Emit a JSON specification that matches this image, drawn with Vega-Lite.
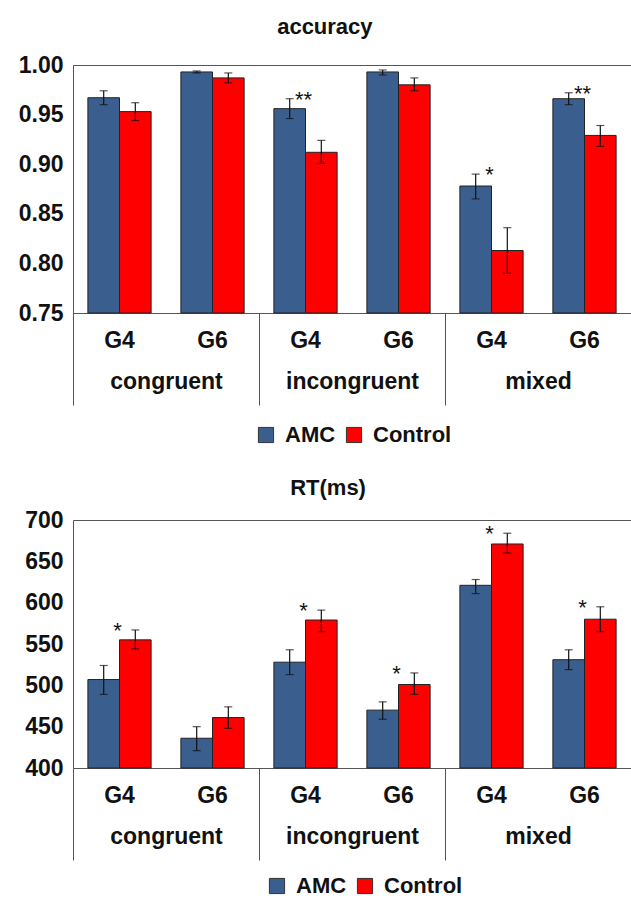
{
  "$schema": "https://vega.github.io/schema/vega-lite/v6.json",
  "padding": {"left": 18, "top": 16, "right": 0, "bottom": 0},
  "background": "white",
  "spacing": 31,
  "config": {
    "font": "Liberation Sans",
    "view": {"stroke": null},
    "axis": {"labelFont": "Liberation Sans", "labelFontWeight": "bold", "labelFontSize": 23, "labelColor": "#111", "domainColor": "#555", "title": null},
    "title": {"font": "Liberation Sans", "fontSize": 22, "fontWeight": "bold", "color": "#111", "frame": "bounds", "anchor": "middle"}
  },
  "resolve": {"legend": {"color": "independent"}},
  "datasets": {
    "acc": [
      {"category": "congruent", "grade": "G4", "key": "congruent G4", "group": "AMC", "mean": 0.967, "lo": 0.960, "hi": 0.974, "sig": ""},
      {"category": "congruent", "grade": "G4", "key": "congruent G4", "group": "Control", "mean": 0.953, "lo": 0.944, "hi": 0.962, "sig": ""},
      {"category": "congruent", "grade": "G6", "key": "congruent G6", "group": "AMC", "mean": 0.993, "lo": 0.992, "hi": 0.994, "sig": ""},
      {"category": "congruent", "grade": "G6", "key": "congruent G6", "group": "Control", "mean": 0.987, "lo": 0.982, "hi": 0.992, "sig": ""},
      {"category": "incongruent", "grade": "G4", "key": "incongruent G4", "group": "AMC", "mean": 0.956, "lo": 0.946, "hi": 0.966, "sig": "**"},
      {"category": "incongruent", "grade": "G4", "key": "incongruent G4", "group": "Control", "mean": 0.912, "lo": 0.901, "hi": 0.924, "sig": ""},
      {"category": "incongruent", "grade": "G6", "key": "incongruent G6", "group": "AMC", "mean": 0.993, "lo": 0.990, "hi": 0.995, "sig": ""},
      {"category": "incongruent", "grade": "G6", "key": "incongruent G6", "group": "Control", "mean": 0.980, "lo": 0.974, "hi": 0.987, "sig": ""},
      {"category": "mixed", "grade": "G4", "key": "mixed G4", "group": "AMC", "mean": 0.878, "lo": 0.865, "hi": 0.890, "sig": "*"},
      {"category": "mixed", "grade": "G4", "key": "mixed G4", "group": "Control", "mean": 0.813, "lo": 0.790, "hi": 0.836, "sig": ""},
      {"category": "mixed", "grade": "G6", "key": "mixed G6", "group": "AMC", "mean": 0.966, "lo": 0.960, "hi": 0.972, "sig": "**"},
      {"category": "mixed", "grade": "G6", "key": "mixed G6", "group": "Control", "mean": 0.929, "lo": 0.918, "hi": 0.939, "sig": ""}
    ],
    "rt": [
      {"category": "congruent", "grade": "G4", "key": "congruent G4", "group": "AMC", "mean": 507, "lo": 489, "hi": 524, "sig": ""},
      {"category": "congruent", "grade": "G4", "key": "congruent G4", "group": "Control", "mean": 555, "lo": 544, "hi": 567, "sig": "*"},
      {"category": "congruent", "grade": "G6", "key": "congruent G6", "group": "AMC", "mean": 436, "lo": 421, "hi": 450, "sig": ""},
      {"category": "congruent", "grade": "G6", "key": "congruent G6", "group": "Control", "mean": 461, "lo": 448, "hi": 474, "sig": ""},
      {"category": "incongruent", "grade": "G4", "key": "incongruent G4", "group": "AMC", "mean": 528, "lo": 513, "hi": 543, "sig": ""},
      {"category": "incongruent", "grade": "G4", "key": "incongruent G4", "group": "Control", "mean": 579, "lo": 565, "hi": 591, "sig": "*"},
      {"category": "incongruent", "grade": "G6", "key": "incongruent G6", "group": "AMC", "mean": 470, "lo": 459, "hi": 480, "sig": ""},
      {"category": "incongruent", "grade": "G6", "key": "incongruent G6", "group": "Control", "mean": 501, "lo": 489, "hi": 515, "sig": "*"},
      {"category": "mixed", "grade": "G4", "key": "mixed G4", "group": "AMC", "mean": 621, "lo": 611, "hi": 628, "sig": ""},
      {"category": "mixed", "grade": "G4", "key": "mixed G4", "group": "Control", "mean": 671, "lo": 660, "hi": 684, "sig": "*"},
      {"category": "mixed", "grade": "G6", "key": "mixed G6", "group": "AMC", "mean": 531, "lo": 519, "hi": 543, "sig": ""},
      {"category": "mixed", "grade": "G6", "key": "mixed G6", "group": "Control", "mean": 580, "lo": 565, "hi": 595, "sig": "*"}
    ]
  },
  "vconcat": [
    {
      "title": {"text": "accuracy", "offset": 15},
      "data": {"name": "acc"},
      "width": 558,
      "height": 248,
      "resolve": {"scale": {"x": "independent"}},
      "layer": [
        {
          "mark": {"type": "point", "opacity": 0},
          "encoding": {
            "x": {"field": "category", "type": "nominal", "sort": null,
              "scale": {"type": "band", "paddingInner": 0, "paddingOuter": 0},
              "axis": {"orient": "bottom", "domain": false, "ticks": true, "tickBand": "extent", "tickSize": 92, "tickColor": "#555", "tickWidth": 1, "labelPadding": -35, "labelAngle": 0}}
          }
        },
        {
          "layer": [
            {
              "mark": {"type": "bar", "stroke": "#222", "strokeWidth": 1},
              "encoding": {
                "x": {"field": "key", "type": "nominal", "sort": null,
                  "scale": {"paddingInner": 0.32, "paddingOuter": 0.16},
                  "axis": {"orient": "bottom", "ticks": false, "labelExpr": "split(datum.label, ' ')[1]", "labelPadding": 16, "labelAngle": 0, "domainColor": "#555"}},
                "xOffset": {"field": "group", "type": "nominal", "sort": ["AMC", "Control"]},
                "y": {"field": "mean", "type": "quantitative",
                  "scale": {"domain": [0.75, 1.0], "nice": false, "zero": false},
                  "axis": {"values": [0.75, 0.8, 0.85, 0.9, 0.95, 1.0], "format": ".2f", "ticks": false, "labelPadding": 10, "domainColor": "#555", "grid": true, "gridColor": "#555", "gridOpacity": {"condition": {"test": "datum.value >= 0.999", "value": 1}, "value": 0}}},
                "y2": {"datum": 0.75},
                "color": {"field": "group", "type": "nominal",
                  "scale": {"domain": ["AMC", "Control"], "range": ["#3A5F8F", "#FF0000"]},
                  "legend": {"title": null, "orient": "none", "direction": "horizontal", "legendX": 182, "legendY": 359, "labelFontSize": 22, "labelFontWeight": "bold", "labelColor": "#111", "symbolType": "square", "symbolSize": 230, "symbolStrokeColor": "#333", "symbolStrokeWidth": 1, "symbolOpacity": 1, "labelOffset": 8, "columnPadding": 7}}
              }
            },
            {
              "mark": {"type": "rule", "color": "#111", "strokeWidth": 1.2},
              "encoding": {
                "x": {"field": "key", "type": "nominal", "sort": null},
                "xOffset": {"field": "group", "type": "nominal", "sort": ["AMC", "Control"]},
                "y": {"field": "lo", "type": "quantitative"},
                "y2": {"field": "hi"}
              }
            },
            {
              "mark": {"type": "tick", "color": "#111", "thickness": 1.2, "size": 8, "orient": "horizontal"},
              "encoding": {
                "x": {"field": "key", "type": "nominal", "sort": null},
                "xOffset": {"field": "group", "type": "nominal", "sort": ["AMC", "Control"]},
                "y": {"field": "lo", "type": "quantitative"}
              }
            },
            {
              "mark": {"type": "tick", "color": "#111", "thickness": 1.2, "size": 8, "orient": "horizontal"},
              "encoding": {
                "x": {"field": "key", "type": "nominal", "sort": null},
                "xOffset": {"field": "group", "type": "nominal", "sort": ["AMC", "Control"]},
                "y": {"field": "hi", "type": "quantitative"}
              }
            },
            {
              "transform": [{"filter": "datum.sig != ''"}],
              "mark": {"type": "text", "fontSize": 22, "font": "Liberation Sans", "dx": -2, "dy": 8, "baseline": "alphabetic", "color": "#111"},
              "encoding": {
                "x": {"field": "key", "type": "nominal", "sort": null},
                "y": {"field": "hi", "type": "quantitative"},
                "text": {"field": "sig"}
              }
            }
          ]
        }
      ]
    },
    {
      "title": {"text": "RT(ms)", "offset": 9},
      "data": {"name": "rt"},
      "width": 558,
      "height": 248,
      "resolve": {"scale": {"x": "independent"}},
      "layer": [
        {
          "mark": {"type": "point", "opacity": 0},
          "encoding": {
            "x": {"field": "category", "type": "nominal", "sort": null,
              "scale": {"type": "band", "paddingInner": 0, "paddingOuter": 0},
              "axis": {"orient": "bottom", "domain": false, "ticks": true, "tickBand": "extent", "tickSize": 92, "tickColor": "#555", "tickWidth": 1, "labelPadding": -35, "labelAngle": 0}}
          }
        },
        {
          "layer": [
            {
              "mark": {"type": "bar", "stroke": "#222", "strokeWidth": 1},
              "encoding": {
                "x": {"field": "key", "type": "nominal", "sort": null,
                  "scale": {"paddingInner": 0.32, "paddingOuter": 0.16},
                  "axis": {"orient": "bottom", "ticks": false, "labelExpr": "split(datum.label, ' ')[1]", "labelPadding": 16, "labelAngle": 0, "domainColor": "#555"}},
                "xOffset": {"field": "group", "type": "nominal", "sort": ["AMC", "Control"]},
                "y": {"field": "mean", "type": "quantitative",
                  "scale": {"domain": [400, 700], "nice": false, "zero": false},
                  "axis": {"values": [400, 450, 500, 550, 600, 650, 700], "format": "d", "ticks": false, "labelPadding": 10, "domainColor": "#555", "grid": true, "gridColor": "#555", "gridOpacity": {"condition": {"test": "datum.value >= 699", "value": 1}, "value": 0}}},
                "y2": {"datum": 400},
                "color": {"field": "group", "type": "nominal",
                  "scale": {"domain": ["AMC", "Control"], "range": ["#3A5F8F", "#FF0000"]},
                  "legend": {"title": null, "orient": "none", "direction": "horizontal", "legendX": 193, "legendY": 355, "labelFontSize": 22, "labelFontWeight": "bold", "labelColor": "#111", "symbolType": "square", "symbolSize": 230, "symbolStrokeColor": "#333", "symbolStrokeWidth": 1, "symbolOpacity": 1, "labelOffset": 8, "columnPadding": 7}}
              }
            },
            {
              "mark": {"type": "rule", "color": "#111", "strokeWidth": 1.2},
              "encoding": {
                "x": {"field": "key", "type": "nominal", "sort": null},
                "xOffset": {"field": "group", "type": "nominal", "sort": ["AMC", "Control"]},
                "y": {"field": "lo", "type": "quantitative"},
                "y2": {"field": "hi"}
              }
            },
            {
              "mark": {"type": "tick", "color": "#111", "thickness": 1.2, "size": 8, "orient": "horizontal"},
              "encoding": {
                "x": {"field": "key", "type": "nominal", "sort": null},
                "xOffset": {"field": "group", "type": "nominal", "sort": ["AMC", "Control"]},
                "y": {"field": "lo", "type": "quantitative"}
              }
            },
            {
              "mark": {"type": "tick", "color": "#111", "thickness": 1.2, "size": 8, "orient": "horizontal"},
              "encoding": {
                "x": {"field": "key", "type": "nominal", "sort": null},
                "xOffset": {"field": "group", "type": "nominal", "sort": ["AMC", "Control"]},
                "y": {"field": "hi", "type": "quantitative"}
              }
            },
            {
              "transform": [{"filter": "datum.sig != ''"}],
              "mark": {"type": "text", "fontSize": 22, "font": "Liberation Sans", "dx": -2, "dy": 8, "baseline": "alphabetic", "color": "#111"},
              "encoding": {
                "x": {"field": "key", "type": "nominal", "sort": null},
                "y": {"field": "hi", "type": "quantitative"},
                "text": {"field": "sig"}
              }
            }
          ]
        }
      ]
    }
  ]
}
